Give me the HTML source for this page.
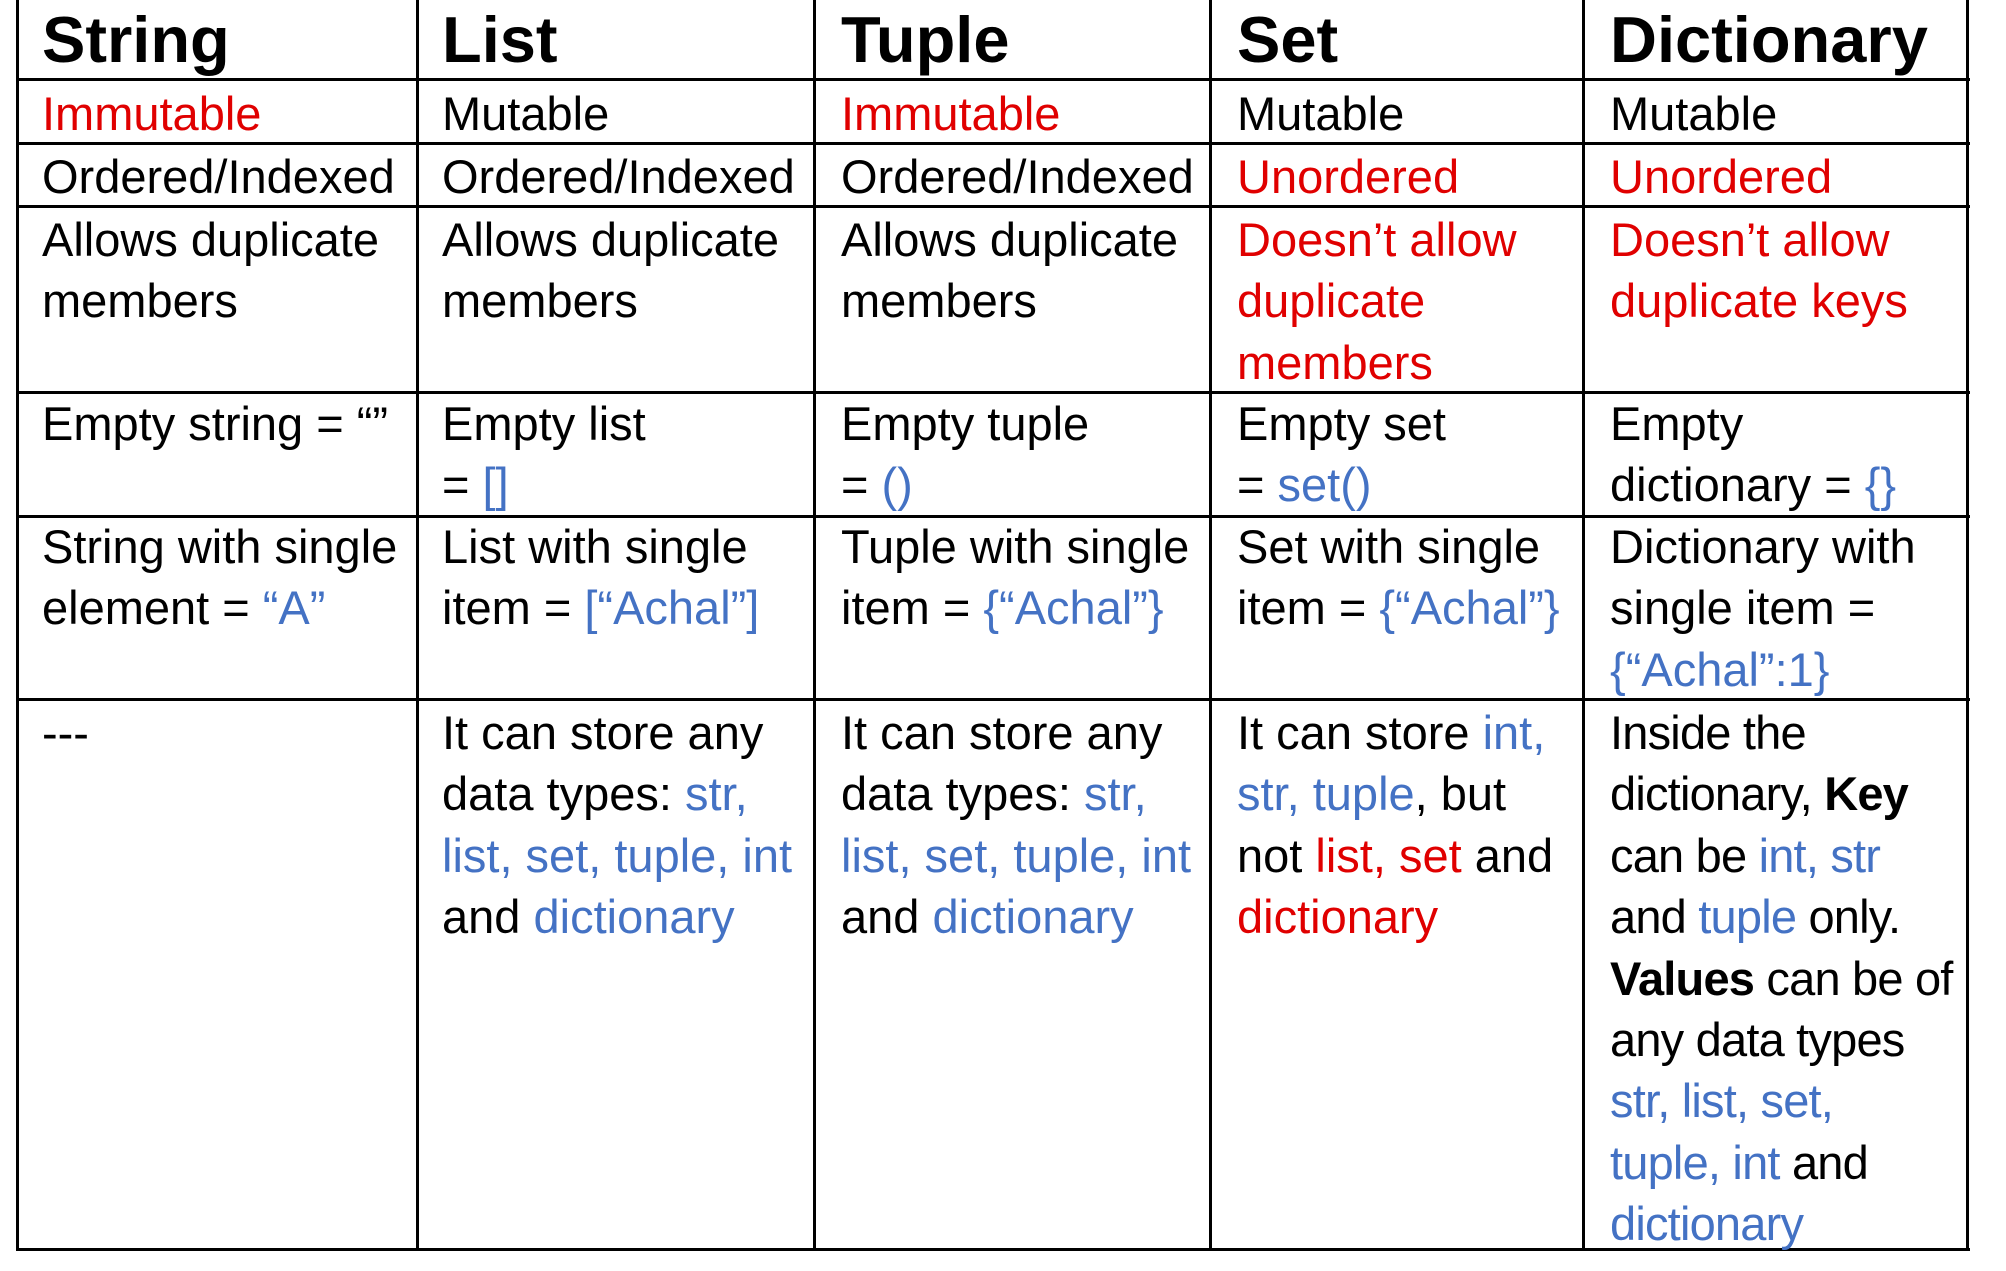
<!DOCTYPE html>
<html><head><meta charset="utf-8"><style>
body{margin:0;width:2006px;height:1271px;background:#fff;position:relative;overflow:hidden;font-family:"Liberation Sans",sans-serif;color:#000}
.v{position:absolute;top:0;width:3px;height:1251px;background:#000}
.h{position:absolute;left:17px;width:1953px;height:3px;background:#000}
.t{position:absolute;font-size:47px;line-height:61.4px;white-space:nowrap}
.hd{position:absolute;top:0;font-size:65px;line-height:80px;font-weight:bold;white-space:nowrap}
.r{color:#e00000}.b{color:#4472c4}
.n{letter-spacing:-0.8px}
</style></head><body>
<div class="v" style="left:16px"></div>
<div class="v" style="left:416px"></div>
<div class="v" style="left:813px"></div>
<div class="v" style="left:1209px"></div>
<div class="v" style="left:1582px"></div>
<div class="v" style="left:1966px"></div>
<div class="h" style="top:78px"></div>
<div class="h" style="top:142px"></div>
<div class="h" style="top:205px"></div>
<div class="h" style="top:391px"></div>
<div class="h" style="top:515px"></div>
<div class="h" style="top:698px"></div>
<div class="h" style="top:1248px"></div>

<div class="hd" style="left:42px">String</div>
<div class="hd" style="left:442px">List</div>
<div class="hd" style="left:841px">Tuple</div>
<div class="hd" style="left:1237px">Set</div>
<div class="hd" style="left:1610px">Dictionary</div>

<div class="t r" style="left:42px;top:83px">Immutable</div>
<div class="t" style="left:442px;top:83px">Mutable</div>
<div class="t r" style="left:841px;top:83px">Immutable</div>
<div class="t" style="left:1237px;top:83px">Mutable</div>
<div class="t" style="left:1610px;top:83px">Mutable</div>

<div class="t" style="left:42px;top:146px">Ordered/Indexed</div>
<div class="t" style="left:442px;top:146px">Ordered/Indexed</div>
<div class="t" style="left:841px;top:146px">Ordered/Indexed</div>
<div class="t r" style="left:1237px;top:146px">Unordered</div>
<div class="t r" style="left:1610px;top:146px">Unordered</div>

<div class="t" style="left:42px;top:209px">Allows duplicate<br>members</div>
<div class="t" style="left:442px;top:209px">Allows duplicate<br>members</div>
<div class="t" style="left:841px;top:209px">Allows duplicate<br>members</div>
<div class="t r" style="left:1237px;top:209px">Doesn’t allow<br>duplicate<br>members</div>
<div class="t r" style="left:1610px;top:209px">Doesn’t allow<br>duplicate keys</div>

<div class="t" style="left:42px;top:393px">Empty string = “”</div>
<div class="t" style="left:442px;top:393px">Empty list<br>= <span class="b">[]</span></div>
<div class="t" style="left:841px;top:393px">Empty tuple<br>= <span class="b">()</span></div>
<div class="t" style="left:1237px;top:393px">Empty set<br>= <span class="b">set()</span></div>
<div class="t" style="left:1610px;top:393px">Empty<br>dictionary = <span class="b">{}</span></div>

<div class="t" style="left:42px;top:516px">String with single<br>element = <span class="b">“A”</span></div>
<div class="t" style="left:442px;top:516px">List with single<br>item = <span class="b">[“Achal”]</span></div>
<div class="t" style="left:841px;top:516px">Tuple with single<br>item = <span class="b">{“Achal”}</span></div>
<div class="t" style="left:1237px;top:516px">Set with single<br>item = <span class="b">{“Achal”}</span></div>
<div class="t" style="left:1610px;top:516px">Dictionary with<br>single item =<br><span class="b">{“Achal”:1}</span></div>

<div class="t" style="left:42px;top:702px">---</div>
<div class="t" style="left:442px;top:702px">It can store any<br>data types: <span class="b">str,</span><br><span class="b">list, set, tuple, int</span><br>and <span class="b">dictionary</span></div>
<div class="t" style="left:841px;top:702px">It can store any<br>data types: <span class="b">str,</span><br><span class="b">list, set, tuple, int</span><br>and <span class="b">dictionary</span></div>
<div class="t" style="left:1237px;top:702px">It can store <span class="b">int,</span><br><span class="b">str, tuple</span>, but<br>not <span class="r">list, set</span> and<br><span class="r">dictionary</span></div>
<div class="t n" style="left:1610px;top:702px">Inside the<br>dictionary, <b>Key</b><br>can be <span class="b">int, str</span><br>and <span class="b">tuple</span> only.<br><b>Values</b> can be of<br>any data types<br><span class="b">str, list, set,</span><br><span class="b">tuple, int</span> and<br><span class="b">dictionary</span></div>
</body></html>
